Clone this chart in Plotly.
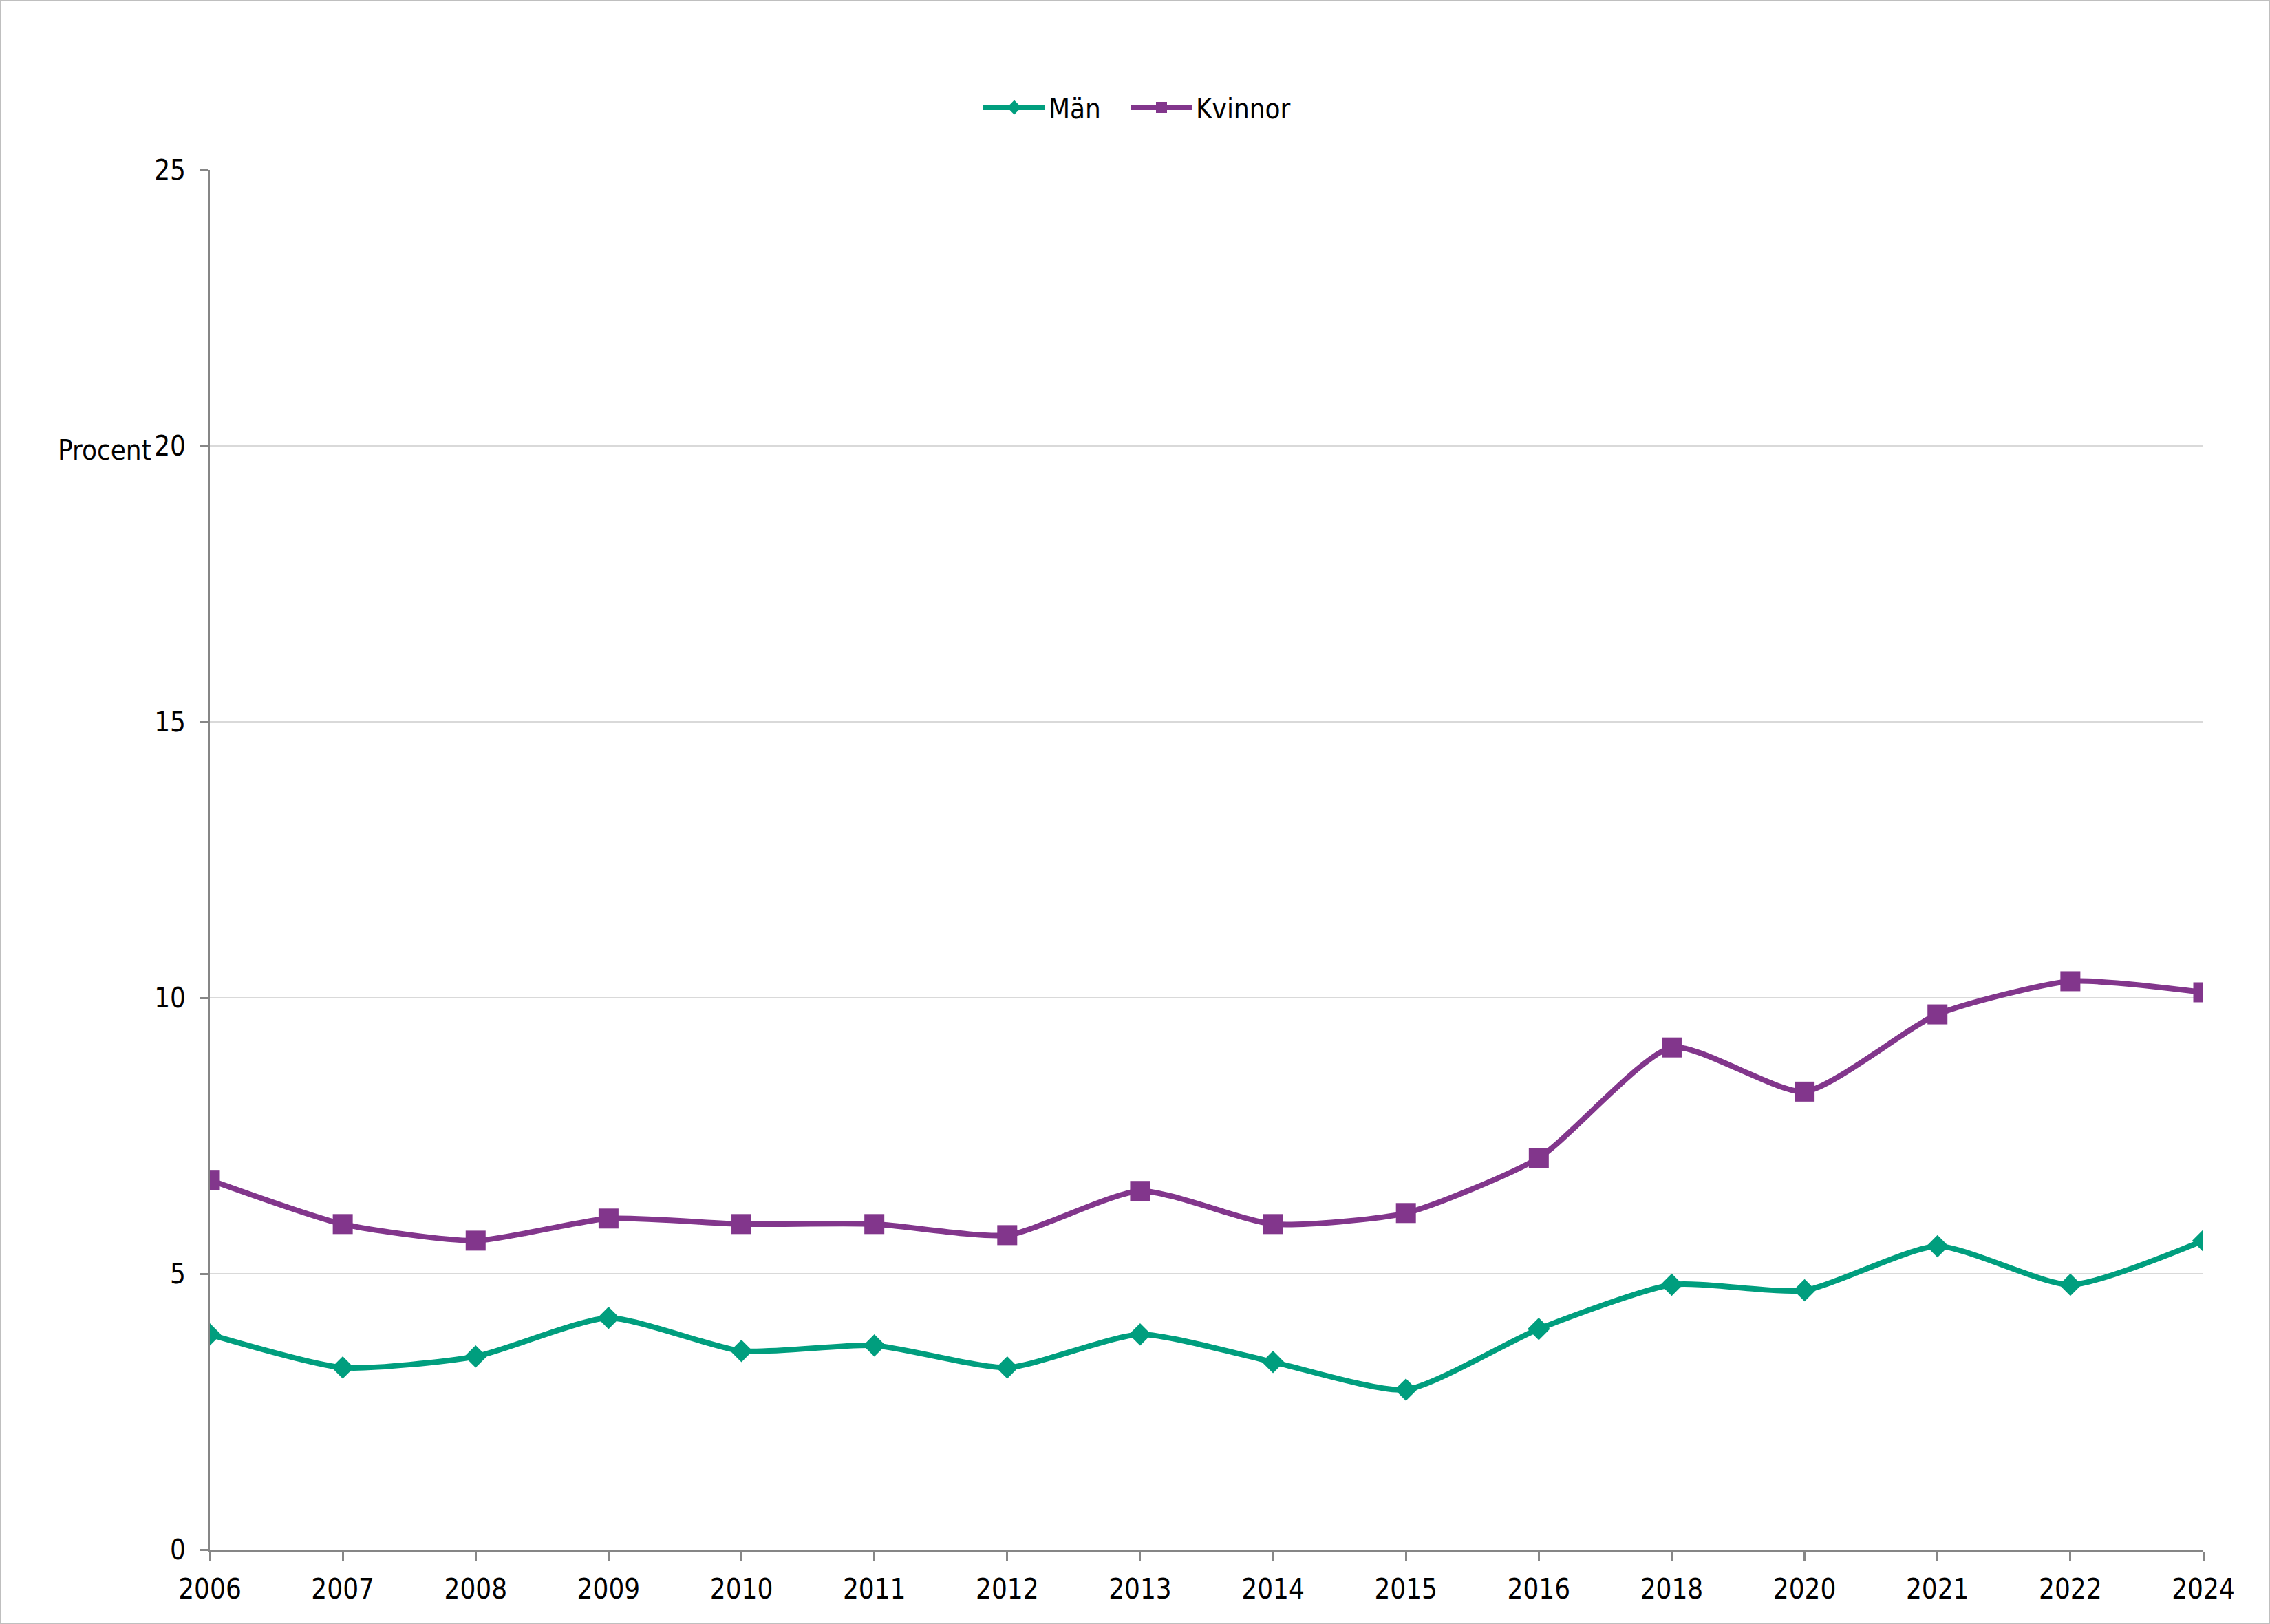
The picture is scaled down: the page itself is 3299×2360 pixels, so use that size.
import plotly.graph_objects as go

years = ["2006", "2007", "2008", "2009", "2010", "2011", "2012", "2013",
         "2014", "2015", "2016", "2018", "2020", "2021", "2022", "2024"]
man = [3.9, 3.3, 3.5, 4.2, 3.6, 3.7, 3.3, 3.9, 3.4, 2.9, 4.0, 4.8, 4.7, 5.5, 4.8, 5.6]
kvinnor = [6.7, 5.9, 5.6, 6.0, 5.9, 5.9, 5.7, 6.5, 5.9, 6.1, 7.1, 9.1, 8.3, 9.7, 10.3, 10.1]
y_ticks = [0, 5, 10, 15, 20, 25]

FONT = "DejaVu Sans Condensed, Verdana, sans-serif"
FS = 40
W, H = 3299, 2360
L, R, T, B = 305, 97, 247, 108
PW, PH = W - L - R, H - T - B

fig = go.Figure()
fig.add_trace(go.Scatter(
    x=years, y=man, name="Män", mode="lines+markers", legend="legend",
    line=dict(color="#009E7E", width=8, shape="spline", smoothing=0.6),
    marker=dict(symbol="diamond", size=25, color="#009E7E"),
))
fig.add_trace(go.Scatter(
    x=years, y=kvinnor, name="Kvinnor", mode="lines+markers", legend="legend2",
    line=dict(color="#82368C", width=8, shape="spline", smoothing=0.6),
    marker=dict(symbol="square", size=29, color="#82368C"),
))

legend_common = dict(orientation="h", xanchor="left",
                     y=1 + (T - 156) / PH, yanchor="middle",
                     font=dict(family=FONT, size=FS, color="black"),
                     itemwidth=90, bgcolor="rgba(0,0,0,0)")

fig.update_layout(
    width=W, height=H,
    margin=dict(l=L, r=R, t=T, b=B, autoexpand=False),
    paper_bgcolor="white", plot_bgcolor="white",
    font=dict(family=FONT, size=FS, color="black"),
    showlegend=True,
    legend=dict(x=(1424 - L) / PW, **legend_common),
    legend2=dict(x=(1638 - L) / PW, **legend_common),
    xaxis=dict(type="category", range=[0, len(years) - 1],
               showline=True, linecolor="#868686", linewidth=3,
               ticks="outside", ticklen=14, tickcolor="#868686", tickwidth=3,
               showgrid=False, zeroline=False,
               tickfont=dict(family=FONT, size=FS, color="black"),
               ticklabelstandoff=6),
    yaxis=dict(range=[0, 25], tickvals=y_ticks,
               showline=True, linecolor="#868686", linewidth=3,
               ticks="outside", ticklen=12, tickcolor="#868686", tickwidth=3,
               showgrid=True, gridcolor="#D9D9D9", gridwidth=2,
               zeroline=False,
               tickfont=dict(family=FONT, size=FS, color="black"),
               ticklabelstandoff=12),
    annotations=[dict(text="Procent", xref="paper", yref="y",
                      x=(222 - L) / PW, y=20, yshift=-6,
                      xanchor="right", yanchor="middle",
                      showarrow=False,
                      font=dict(family=FONT, size=FS, color="black"))],
    shapes=[dict(type="rect", xref="paper", yref="paper",
                 x0=-(L - 1) / PW, x1=1 + (R - 1) / PW,
                 y0=-(B - 1) / PH, y1=1 + (T - 1) / PH,
                 line=dict(color="#BFBFBF", width=2))],
)

fig.write_html("out.html", config={"displayModeBar": False},
               post_script="document.body.style.margin='0';document.body.style.overflow='hidden';")
